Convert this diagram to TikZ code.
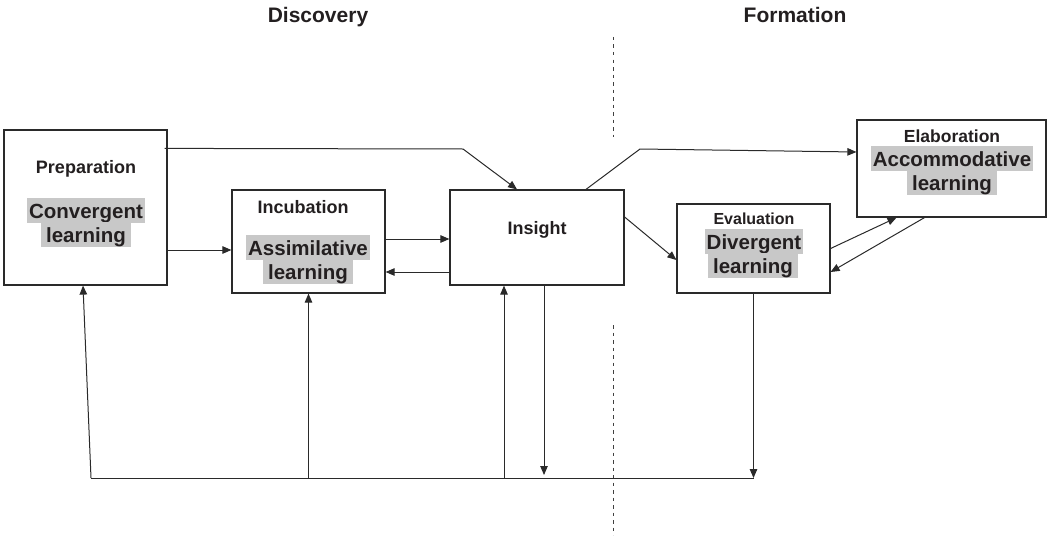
\documentclass[tikz,border=0pt]{standalone}
\usepackage{fontspec}
\setmainfont{Liberation Sans}
\usetikzlibrary{arrows.meta,calc}
\definecolor{txt}{HTML}{231F20}
\definecolor{hlgray}{HTML}{C8C8C8}
\definecolor{ln}{HTML}{2A2A2A}
\tikzset{
  box/.style={draw=ln, line width=1.2pt, inner sep=0pt, fill=none},
  header/.style={font=\fontsize{21}{25}\selectfont\bfseries, text=txt, anchor=base, inner sep=0pt},
  title/.style={font=\fontsize{18}{21}\selectfont\bfseries, text=txt, anchor=base, inner sep=0pt},
  hl/.style={fill=hlgray, font=\fontsize{20.5}{25}\selectfont\bfseries, text=txt, anchor=base,
             inner xsep=0pt, inner ysep=0pt, text height=20.5pt, text depth=4.5pt, minimum width=#1},
  conn/.style={draw=ln, line width=1pt},
  arr/.style={conn, -{Triangle[length=9pt,width=7.5pt]}},
  divider/.style={draw=black!75, line width=0.9pt, dash pattern=on 3.5pt off 4pt}
}
\begin{document}
\begin{tikzpicture}[x=1pt,y=-1pt]
\useasboundingbox (0,0) rectangle (1048,535);

% headers
\node[header] (hdisc) at (318,23) {Discovery};
\node[header] (hform) at (795,23) {Formation};

% divider
\coordinate (d1) at (613,37);
\coordinate (d2) at (613,137);
\coordinate (d3) at (613,325);
\coordinate (d4) at (613,535);
\draw[divider] (d1) -- (d2);
\draw[divider] (d3) -- (d4);

% boxes
\node[box, minimum width=163pt, minimum height=155pt] (prep) at (85.5,207.5) {};
\node[box, minimum width=153pt, minimum height=103pt] (incub) at (308.5,241.5) {};
\node[box, minimum width=174pt, minimum height=95pt] (insight) at (537,237.5) {};
\node[box, minimum width=153pt, minimum height=89pt] (eval) at (753.5,248.5) {};
\node[box, minimum width=189pt, minimum height=97pt] (elab) at (951.5,168.5) {};

% texts
\node[title] (tprep) at (86,173) {Preparation};
\node[hl=118pt] (h1a) at (86,218) {Convergent};
\node[hl=90pt] (h1b) at (86,242) {learning\hspace{0.3em}};

\node[title] (tincub) at (303,213) {Incubation};
\node[hl=124pt] (h2a) at (308,255.5) {Assimilative};
\node[hl=90pt] (h2b) at (308,279.5) {learning\hspace{0.35em}};

\node[title] (tins) at (537,234) {Insight};

\node[title, font=\fontsize{16}{19}\selectfont\bfseries] (teval) at (754,224) {Evaluation};
\node[hl=98pt] (h3a) at (754,249) {Divergent};
\node[hl=90pt] (h3b) at (753,273) {learning};

\node[title, font=\fontsize{17.5}{20}\selectfont\bfseries] (telab) at (952,142) {Elaboration};
\node[hl=162pt] (h4a) at (952,166) {Accommodative};
\node[hl=90pt] (h4b) at (952,190.5) {learning};

% connectors between boxes
\draw[arr] ([yshift=-42.5pt]prep.east) -- ([yshift=-42.5pt]prep.east -| incub.west);
\draw[arr] ([yshift=2.5pt]incub.east) -- ([yshift=2.5pt]incub.east -| insight.west);
\draw[arr] ([yshift=-34.5pt]insight.west) -- ([yshift=-34.5pt]insight.west -| incub.east);

\coordinate (b1) at (463,149);
\draw[arr] ([xshift=-3pt,yshift=-19pt]prep.north east) -- (b1) -- ([xshift=-20pt]insight.north);

\coordinate (b2) at (640,149);
\draw[arr] ([xshift=49pt]insight.north) -- (b2) -- ([yshift=16.5pt]elab.west);

\draw[arr] ([yshift=20.5pt]insight.east) -- ([yshift=-11.5pt]eval.west);
\draw[arr] (eval.east) -- ([xshift=-55pt]elab.south);
\draw[arr] ([xshift=-27pt]elab.south) -- ([yshift=-23.5pt]eval.east);

% feedback lines
\coordinate (bl) at (91,478);
\coordinate (br) at (eval.south |- bl);
\draw[conn] (bl) -- (br);
\draw[arr] ([xshift=7pt]insight.south) -- ([xshift=7pt,yshift=3pt]insight.south |- bl);
\draw[arr] (eval.south) -- (br);
\draw[arr] (bl) -- ([xshift=-2.5pt]prep.south);
\draw[arr] (incub.south |- bl) -- (incub.south);
\draw[arr] ([xshift=-33pt]insight.south |- bl) -- ([xshift=-33pt]insight.south);
\end{tikzpicture}
\end{document}
